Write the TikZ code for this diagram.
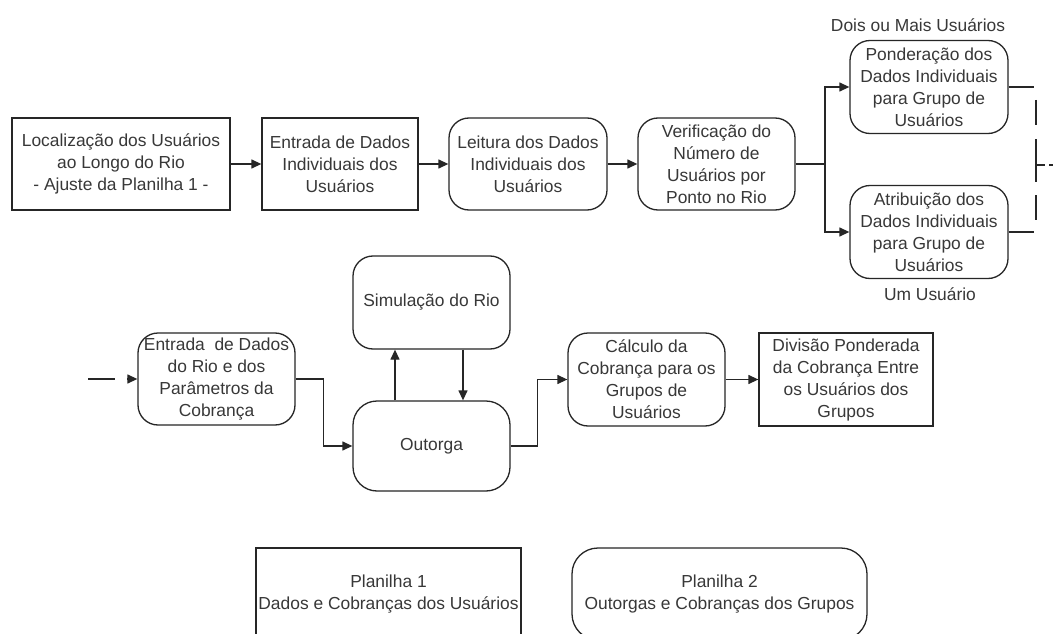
\documentclass[tikz,border=0pt]{standalone}
\usepackage{fontspec}
\setmainfont{Liberation Sans}
\usetikzlibrary{arrows.meta}
\begin{document}
\begin{tikzpicture}[x=1pt,y=-1pt,
  every node/.style={font=\fontsize{17.4}{22}\selectfont, text=black!78, align=center, inner sep=0pt},
  sq/.style={draw=black!85, line width=1.3pt},
  rd/.style={draw=black!85, line width=1.3pt, rounded corners=20pt},
  conn/.style={draw=black!85, line width=1.3pt},
  arr/.style={conn, -{Triangle[length=10pt,width=9pt]}},
  dsh/.style={conn, dash pattern=on 25pt off 14pt on 43pt off 13pt},
  lbl/.style={}]
\useasboundingbox (0,0) rectangle (1053,634);
\clip (0,0) rectangle (1053,634);
\fill[white] (0,0) rectangle (1053,634);
% top row
\node[sq, minimum width=218pt, minimum height=92pt] (A) at (121,164) {Localização dos Usuários\\ao Longo do Rio\\ - Ajuste da Planilha 1 -};
\node[sq, minimum width=156pt, minimum height=92pt] (B) at (340,164) {Entrada de Dados\\Individuais dos\\Usuários};
\node[rd, minimum width=158pt, minimum height=92pt] (C) at (528,164) {Leitura dos Dados\\Individuais dos\\Usuários};
\node[rd, minimum width=157pt, minimum height=92pt] (D) at (716.5,164) {Verificação do\\Número de\\Usuários por\\Ponto no Rio};
\node[rd, minimum width=158pt, minimum height=93pt] (E) at (929,87) {Ponderação dos\\Dados Individuais\\para Grupo de\\Usuários};
\node[rd, minimum width=158pt, minimum height=93pt] (F) at (929,232) {Atribuição dos\\Dados Individuais\\para Grupo de\\Usuários};
\node[lbl] (L1) at (918,25) {Dois ou Mais Usuários};
\node[lbl] (L2) at (930,294) {Um Usuário};
% middle row
\node[rd, minimum width=157pt, minimum height=92pt] (G) at (216.5,379) {Entrada~~de Dados\\do Rio e dos\\Parâmetros da\\Cobrança};
\node[rd, minimum width=157pt, minimum height=93pt] (H) at (431.5,302.5) {Simulação do Rio};
\node[rd, rounded corners=24pt, minimum width=157pt, minimum height=90pt] (I) at (431.5,446) {Outorga};
\node[rd, minimum width=157pt, minimum height=93pt] (J) at (646.5,379.5) {Cálculo da\\Cobrança para os\\Grupos de\\Usuários};
\node[sq, minimum width=174pt, minimum height=93pt] (K) at (846,379.5) {Divisão Ponderada\\da Cobrança Entre\\os Usuários dos\\Grupos};
% bottom
\node[sq, minimum width=265pt, minimum height=92pt] (P1) at (388.5,594) {Planilha 1\\Dados e Cobranças dos Usuários};
\node[rd, rounded corners=26pt, minimum width=295pt, minimum height=92pt] (P2) at (719.5,594) {Planilha 2\\Outorgas e Cobranças dos Grupos};
% connectors top
\draw[arr] (A) -- (B);
\draw[arr] (B) -- (C);
\draw[arr] (C) -- (D);
\coordinate (br) at (825,164);
\draw[conn] (D.east) -- (br);
\draw[arr] (br) |- (E.west);
\draw[arr] (br) |- (F.west);
\coordinate (eo) at (1034,87);
\coordinate (fo) at (1034,232);
\draw[conn] (E.east) -- (eo);
\draw[conn] (F.east) -- (fo);
\coordinate (dt) at (1036,100);
\coordinate (db) at (1036,220);
\draw[dsh] (dt) -- (db);
\coordinate (hm) at (1036,165);
\coordinate (he) at (1053,165);
\draw[conn, dash pattern=on 9pt off 4pt] (hm) -- (he);
% connectors middle
\coordinate (gin) at (88,379);
\draw[arr, dash pattern=on 27pt off 12pt] (gin) -- (G.west);
\draw[arr] (G.east) -- ++(28,0) |- (I.west);
\draw[arr] ([xshift=-36.5pt]I.north) -- ([xshift=-36.5pt]H.south);
\draw[arr] ([xshift=31.5pt]H.south) -- ([xshift=31.5pt]I.north);
\draw[arr] (I.east) -- ++(27,0) |- (J.west);
\draw[arr] (J) -- (K);
\end{tikzpicture}
\end{document}
